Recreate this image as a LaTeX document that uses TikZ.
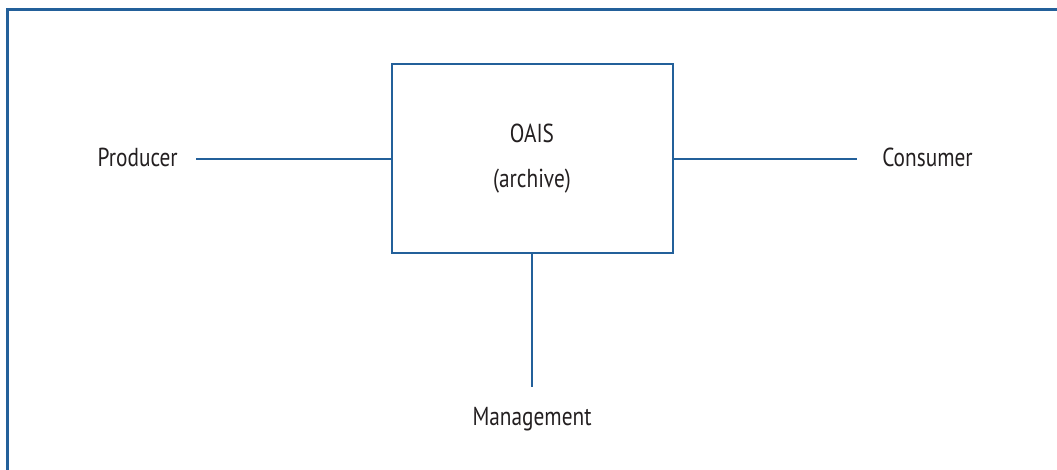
\documentclass[tikz,border=0pt]{standalone}
\usepackage{fontspec}
\setmainfont{PT Sans}[FakeStretch=0.82]
\definecolor{linkblue}{HTML}{23609A}
\definecolor{labeltext}{HTML}{231F20}
\begin{document}
\begin{tikzpicture}[x=0.75pt,y=-0.75pt,
  link/.style={draw=linkblue,line width=1.6pt},
  label/.style={text=labeltext,font=\fontsize{19.5}{23}\selectfont,inner sep=0pt,anchor=base},
  archivebox/.style={draw=linkblue,line width=1.6pt,minimum width=281*0.75pt,minimum height=189*0.75pt,inner sep=0pt}]
  \useasboundingbox (0,0) rectangle (1057,470);
  % frame edges along top and left
  \draw[draw=linkblue,line width=1.6pt] (7.5,471) -- (7.5,9.5) -- (1058,9.5);
  % central archive
  \node[archivebox] (oais) at (532.5,158.5) {};
  \node[label] (oaisname) at (532,143) {OAIS};
  \node[label] (oaissub) at (532,188) {(archive)};
  % external entities
  \node[label,anchor=base east] (producer) at (178,167) {Producer};
  \node[label,anchor=base west] (consumer) at (882,167) {Consumer};
  \node[label] (management) at (532,425) {Management};
  \coordinate (pend) at (196,159);
  \coordinate (cend) at (857,159);
  \coordinate (mend) at (532,387);
  \draw[link] (pend) -- (pend -| oais.west);
  \draw[link] (oais.east |- cend) -- (cend);
  \draw[link] (oais.south -| mend) -- (mend);
\end{tikzpicture}
\end{document}
